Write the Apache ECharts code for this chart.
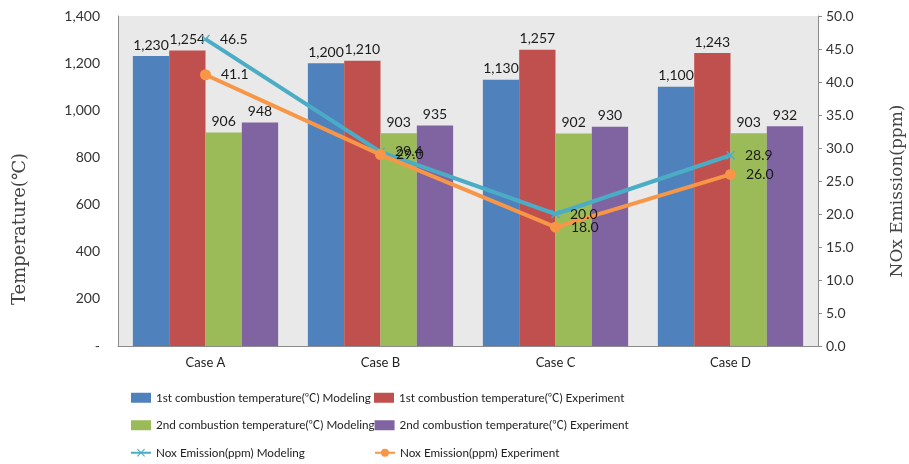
<!DOCTYPE html>
<html>
<head>
<meta charset="utf-8">
<script src="https://cdn.jsdelivr.net/npm/echarts@6/dist/echarts.min.js"></script>
<style>
  html, body { margin: 0; padding: 0; background: #ffffff; }
  #chart { width: 909px; height: 464px; }
</style>
</head>
<body>
<div id="chart"></div>
<script>
// Combustion temperatures (bars, left axis) and NOx emission (lines, right axis)
const categories = ['Case A', 'Case B', 'Case C', 'Case D'];

const firstTempModeling   = [1230, 1200, 1130, 1100];
const firstTempExperiment = [1254, 1210, 1257, 1243];
const secondTempModeling  = [906, 903, 902, 903];
const secondTempExperiment = [948, 935, 930, 932];

const noxModeling   = [46.5, 29.4, 20.0, 28.9];
const noxExperiment = [41.1, 29.0, 18.0, 26.0];

const seriesNames = [
  '1st combustion temperature(\u2103) Modeling',
  '1st combustion temperature(\u2103) Experiment',
  '2nd combustion temperature(\u2103) Modeling',
  '2nd combustion temperature(\u2103) Experiment',
  'Nox Emission(ppm) Modeling',
  'Nox Emission(ppm) Experiment'
];

const leftAxisTitle = 'Temperature(\u2103)';
const rightAxisTitle = 'NOx Emission(ppm)';

const FONT = 'Lato, "Noto Sans CJK KR", sans-serif';
const SERIF = '"DejaVu Serif", "Liberation Serif", "Noto Sans CJK KR", serif';
const colors = ['#4F81BD', '#C0504D', '#9BBB59', '#8064A2', '#4BACC6', '#F79646'];

const fmtThousands = v => v.toLocaleString('en-US');

function barSeries(i, data) {
  return {
    name: seriesNames[i],
    type: 'bar',
    data: data,
    barGap: '0%',
    barCategoryGap: '17%',
    itemStyle: { color: colors[i] },
    label: {
      show: true,
      position: 'top',
      distance: 4,
      fontFamily: FONT,
      fontSize: 14,
      color: '#1a1a1a',
      formatter: p => fmtThousands(p.value)
    },
    z: 2
  };
}

function lineSeries(i, data, symbol, symbolSize) {
  return {
    name: seriesNames[i],
    type: 'line',
    yAxisIndex: 1,
    data: data,
    symbol: symbol,
    symbolSize: symbolSize,
    lineStyle: { color: colors[i], width: 4 },
    itemStyle: { color: colors[i] },
    label: {
      show: true,
      position: 'right',
      distance: 10,
      fontFamily: FONT,
      fontSize: 14,
      color: '#1a1a1a',
      formatter: p => p.value.toFixed(1)
    },
    z: 5
  };
}

const chart = echarts.init(document.getElementById('chart'), null, { renderer: 'canvas' });

chart.setOption({
  animation: false,
  backgroundColor: '#ffffff',
  grid: {
    left: 118, right: 91, top: 16, bottom: 118,
    show: true,
    backgroundColor: '#e9e9e9',
    borderWidth: 0
  },
  // two-column legend: fixed text width keeps the columns aligned
  legend: {
    data: [
      { name: seriesNames[0], icon: 'rect' },
      { name: seriesNames[1], icon: 'rect' },
      { name: seriesNames[2], icon: 'rect' },
      { name: seriesNames[3], icon: 'rect' },
      { name: seriesNames[4] },
      { name: seriesNames[5] }
    ],
    orient: 'horizontal',
    left: 130,
    top: 384,
    width: 600,
    align: 'left',
    itemWidth: 20,
    itemHeight: 10,
    itemGap: 0,
    padding: 0,
    selectedMode: false,
    textStyle: {
      fontFamily: FONT, fontSize: 11.7, color: '#222',
      width: 218, lineHeight: 27.5, overflow: 'none'
    }
  },
  xAxis: {
    type: 'category',
    data: categories,
    axisLine: { show: true, lineStyle: { color: '#8c8c8c', width: 1 } },
    axisTick: { show: false },
    axisLabel: { fontFamily: FONT, fontSize: 13, color: '#222', margin: 10 }
  },
  yAxis: [
    {
      type: 'value',
      min: 0, max: 1400, interval: 200,
      axisLine: { show: true, lineStyle: { color: '#8c8c8c' } },
      axisTick: { show: false },
      splitLine: { show: false },
      axisLabel: {
        fontFamily: FONT, fontSize: 14, color: '#333', margin: 18,
        formatter: v => v === 0 ? '-' : fmtThousands(v)
      }
    },
    {
      type: 'value',
      min: 0, max: 50, interval: 5,
      position: 'right',
      axisLine: { show: true, lineStyle: { color: '#8c8c8c' } },
      axisTick: { show: true, inside: false, length: 4, lineStyle: { color: '#8c8c8c' } },
      splitLine: { show: false },
      axisLabel: {
        fontFamily: FONT, fontSize: 14, color: '#333', margin: 8,
        formatter: v => v.toFixed(1)
      }
    }
  ],
  series: [
    barSeries(0, firstTempModeling),
    barSeries(1, firstTempExperiment),
    barSeries(2, secondTempModeling),
    barSeries(3, secondTempExperiment),
    lineSeries(4, noxModeling, 'path://M0,1L1,0L5,4L9,0L10,1L6,5L10,9L9,10L5,6L1,10L0,9L4,5Z', 9),
    lineSeries(5, noxExperiment, 'circle', 11)
  ],
  graphic: [
    {
      type: 'text',
      x: 20, y: 229,
      rotation: Math.PI / 2,
      style: {
        text: leftAxisTitle,
        fontFamily: SERIF, fontSize: 18, fill: '#444',
        align: 'center', verticalAlign: 'middle'
      }
    },
    {
      type: 'text',
      x: 898, y: 191,
      rotation: Math.PI / 2,
      style: {
        text: rightAxisTitle,
        fontFamily: SERIF, fontSize: 17, fill: '#444',
        align: 'center', verticalAlign: 'middle'
      }
    }
  ]
});
</script>
</body>
</html>
